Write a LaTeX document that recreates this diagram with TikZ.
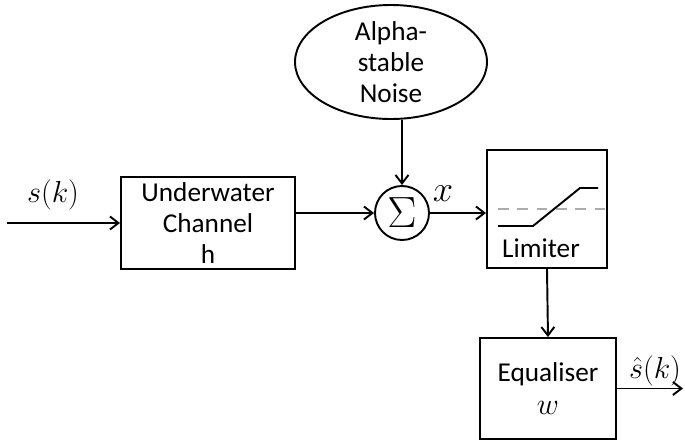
\documentclass[tikz,border=0pt]{standalone}
\usepackage{fontspec}
\setmainfont{Carlito}
\usetikzlibrary{shapes.geometric,arrows.meta}
\begin{document}
\begin{tikzpicture}[>={Straight Barb[length=1.7mm,width=2.6mm]},line width=1.1pt,
  blk/.style={draw,rectangle,align=center,inner sep=0pt,font=\fontsize{15.5}{17.5}\selectfont},
  sig/.style={inner sep=0pt,font=\fontsize{17}{20}\selectfont}]
\useasboundingbox (0,0) rectangle (13.7,8.82);
\node[blk,minimum width=3.48cm,minimum height=1.84cm] (chan) at (4.16,4.36) {Underwater\\Channel\\h};
\node[blk,ellipse,minimum width=3.84cm,minimum height=2.26cm] (noise) at (7.82,7.58) {Alpha-\\stable\\Noise};
\node[draw,circle,minimum size=1.08cm,inner sep=0pt,font=\fontsize{24}{24}\selectfont] (sum) at (8.04,4.56) {$\Sigma$};
\node[blk,minimum width=2.4cm,minimum height=2.36cm] (lim) at (10.94,4.64) {};
\node[font=\fontsize{15.5}{17.5}\selectfont] (limtxt) at ([xshift=-0.12cm,yshift=-0.78cm]lim.center) {Limiter};
\node[blk,minimum width=2.72cm,minimum height=2.02cm] (eq) at (10.96,1.05) {Equaliser\\[1pt]{\fontsize{18}{18}\selectfont$w$}};
\coordinate (in) at (0.14,4.36);
\coordinate (out) at (13.66,1.05);
\node[sig] (sk) at (1.06,4.92) {$s(k)$};
\node[sig,font=\fontsize{22}{22}\selectfont] (xlab) at (8.86,4.95) {$x$};
\node[sig] (shat) at (13.1,1.4) {$\hat{s}(k)$};
\draw[->] (in)--(chan.west);
\draw[->] (sum.west -| chan.east)--(sum.west);
\draw[->] (noise.south -| sum.north)--(sum.north);
\draw[->] (sum.east)--(sum.east -| lim.west);
\draw[->] (lim.south)--(eq.north);
\draw[->] (eq.east)--(out);
\draw[gray!65,dashed,dash pattern=on 6pt off 5pt,line width=0.7pt] ([xshift=-0.98cm]lim.center)--(lim.east);
\draw ([shift={(-0.98,-0.34)}]lim.center)--++(0.7,0)--++(0.94,0.76)--++(0.36,0);
\end{tikzpicture}
\end{document}
